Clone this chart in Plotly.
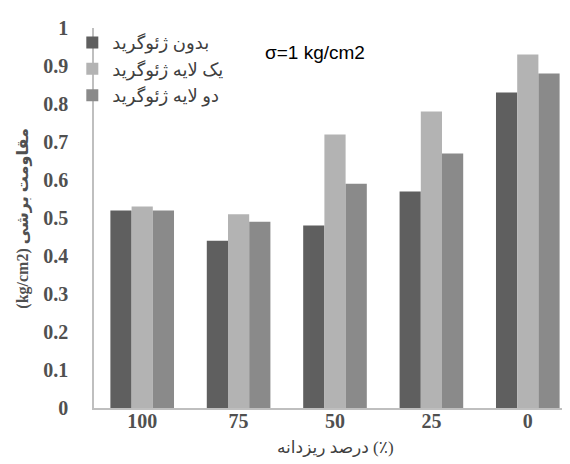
import plotly.graph_objects as go

categories = ["100", "75", "50", "25", "0"]
series_names = ["بدون ژئوگرید", "یک لایه ژئوگرید", "دو لایه ژئوگرید"]
no_geogrid = [0.52, 0.44, 0.48, 0.57, 0.83]
one_layer = [0.53, 0.51, 0.72, 0.78, 0.93]
two_layer = [0.52, 0.49, 0.59, 0.67, 0.88]
y_ticks = [0, 0.1, 0.2, 0.3, 0.4, 0.5, 0.6, 0.7, 0.8, 0.9, 1]
y_tick_labels = ["0", "0.1", "0.2", "0.3", "0.4", "0.5", "0.6", "0.7", "0.8", "0.9", "1"]
colors = ["#5f5f5f", "#b3b3b3", "#8a8a8a"]

serif = "Liberation Serif, DejaVu Sans, serif"

fig = go.Figure()
for name, vals, col in zip(series_names, [no_geogrid, one_layer, two_layer], colors):
    fig.add_trace(go.Bar(x=categories, y=vals, name=name, marker=dict(color=col, line=dict(width=0))))

fig.update_layout(
    width=570, height=464,
    margin=dict(l=86, r=2, t=20, b=64),
    paper_bgcolor="white", plot_bgcolor="white",
    barmode="group", bargap=0.34, bargroupgap=0,
    showlegend=True,
    legend=dict(x=-0.045, y=1.01, xanchor="left", yanchor="top",
                font=dict(family=serif, size=18, color="#404040"),
                bgcolor="rgba(0,0,0,0)", itemwidth=30, tracegroupgap=0),
    xaxis=dict(type="category", showline=True, linecolor="#bfbfbf", linewidth=1.5,
               showgrid=False, ticks="", ticklabelstandoff=-6,
               tickfont=dict(family=serif, size=20, color="#505050", weight="bold")),
    yaxis=dict(range=[0, 1], tickvals=y_ticks, ticktext=y_tick_labels,
               showline=True, linecolor="#bfbfbf", linewidth=1.5, showgrid=False,
               zeroline=False, ticks="", ticklabelstandoff=20,
               tickfont=dict(family=serif, size=20, color="#505050", weight="bold")),
    annotations=[
        dict(text="σ=1 kg/cm2", x=0.459, y=0.935, xref="paper", yref="paper",
             xanchor="center", yanchor="middle", showarrow=False,
             font=dict(family="Liberation Sans, Open Sans, sans-serif", size=19, color="#000000")),
        dict(text="(kg/cm2) مقاومت برشی", x=-0.148, y=0.5, xref="paper", yref="paper",
             xanchor="center", yanchor="middle", showarrow=False, textangle=-90,
             font=dict(family=serif, size=16, color="#505050", weight="bold")),
        dict(text="درصد ریزدانه (٪)", x=0.5, y=-0.105, xref="paper", yref="paper",
             xanchor="center", yanchor="middle", showarrow=False,
             font=dict(family=serif, size=17, color="#404040")),
    ],
)

fig.write_html("out.html")
